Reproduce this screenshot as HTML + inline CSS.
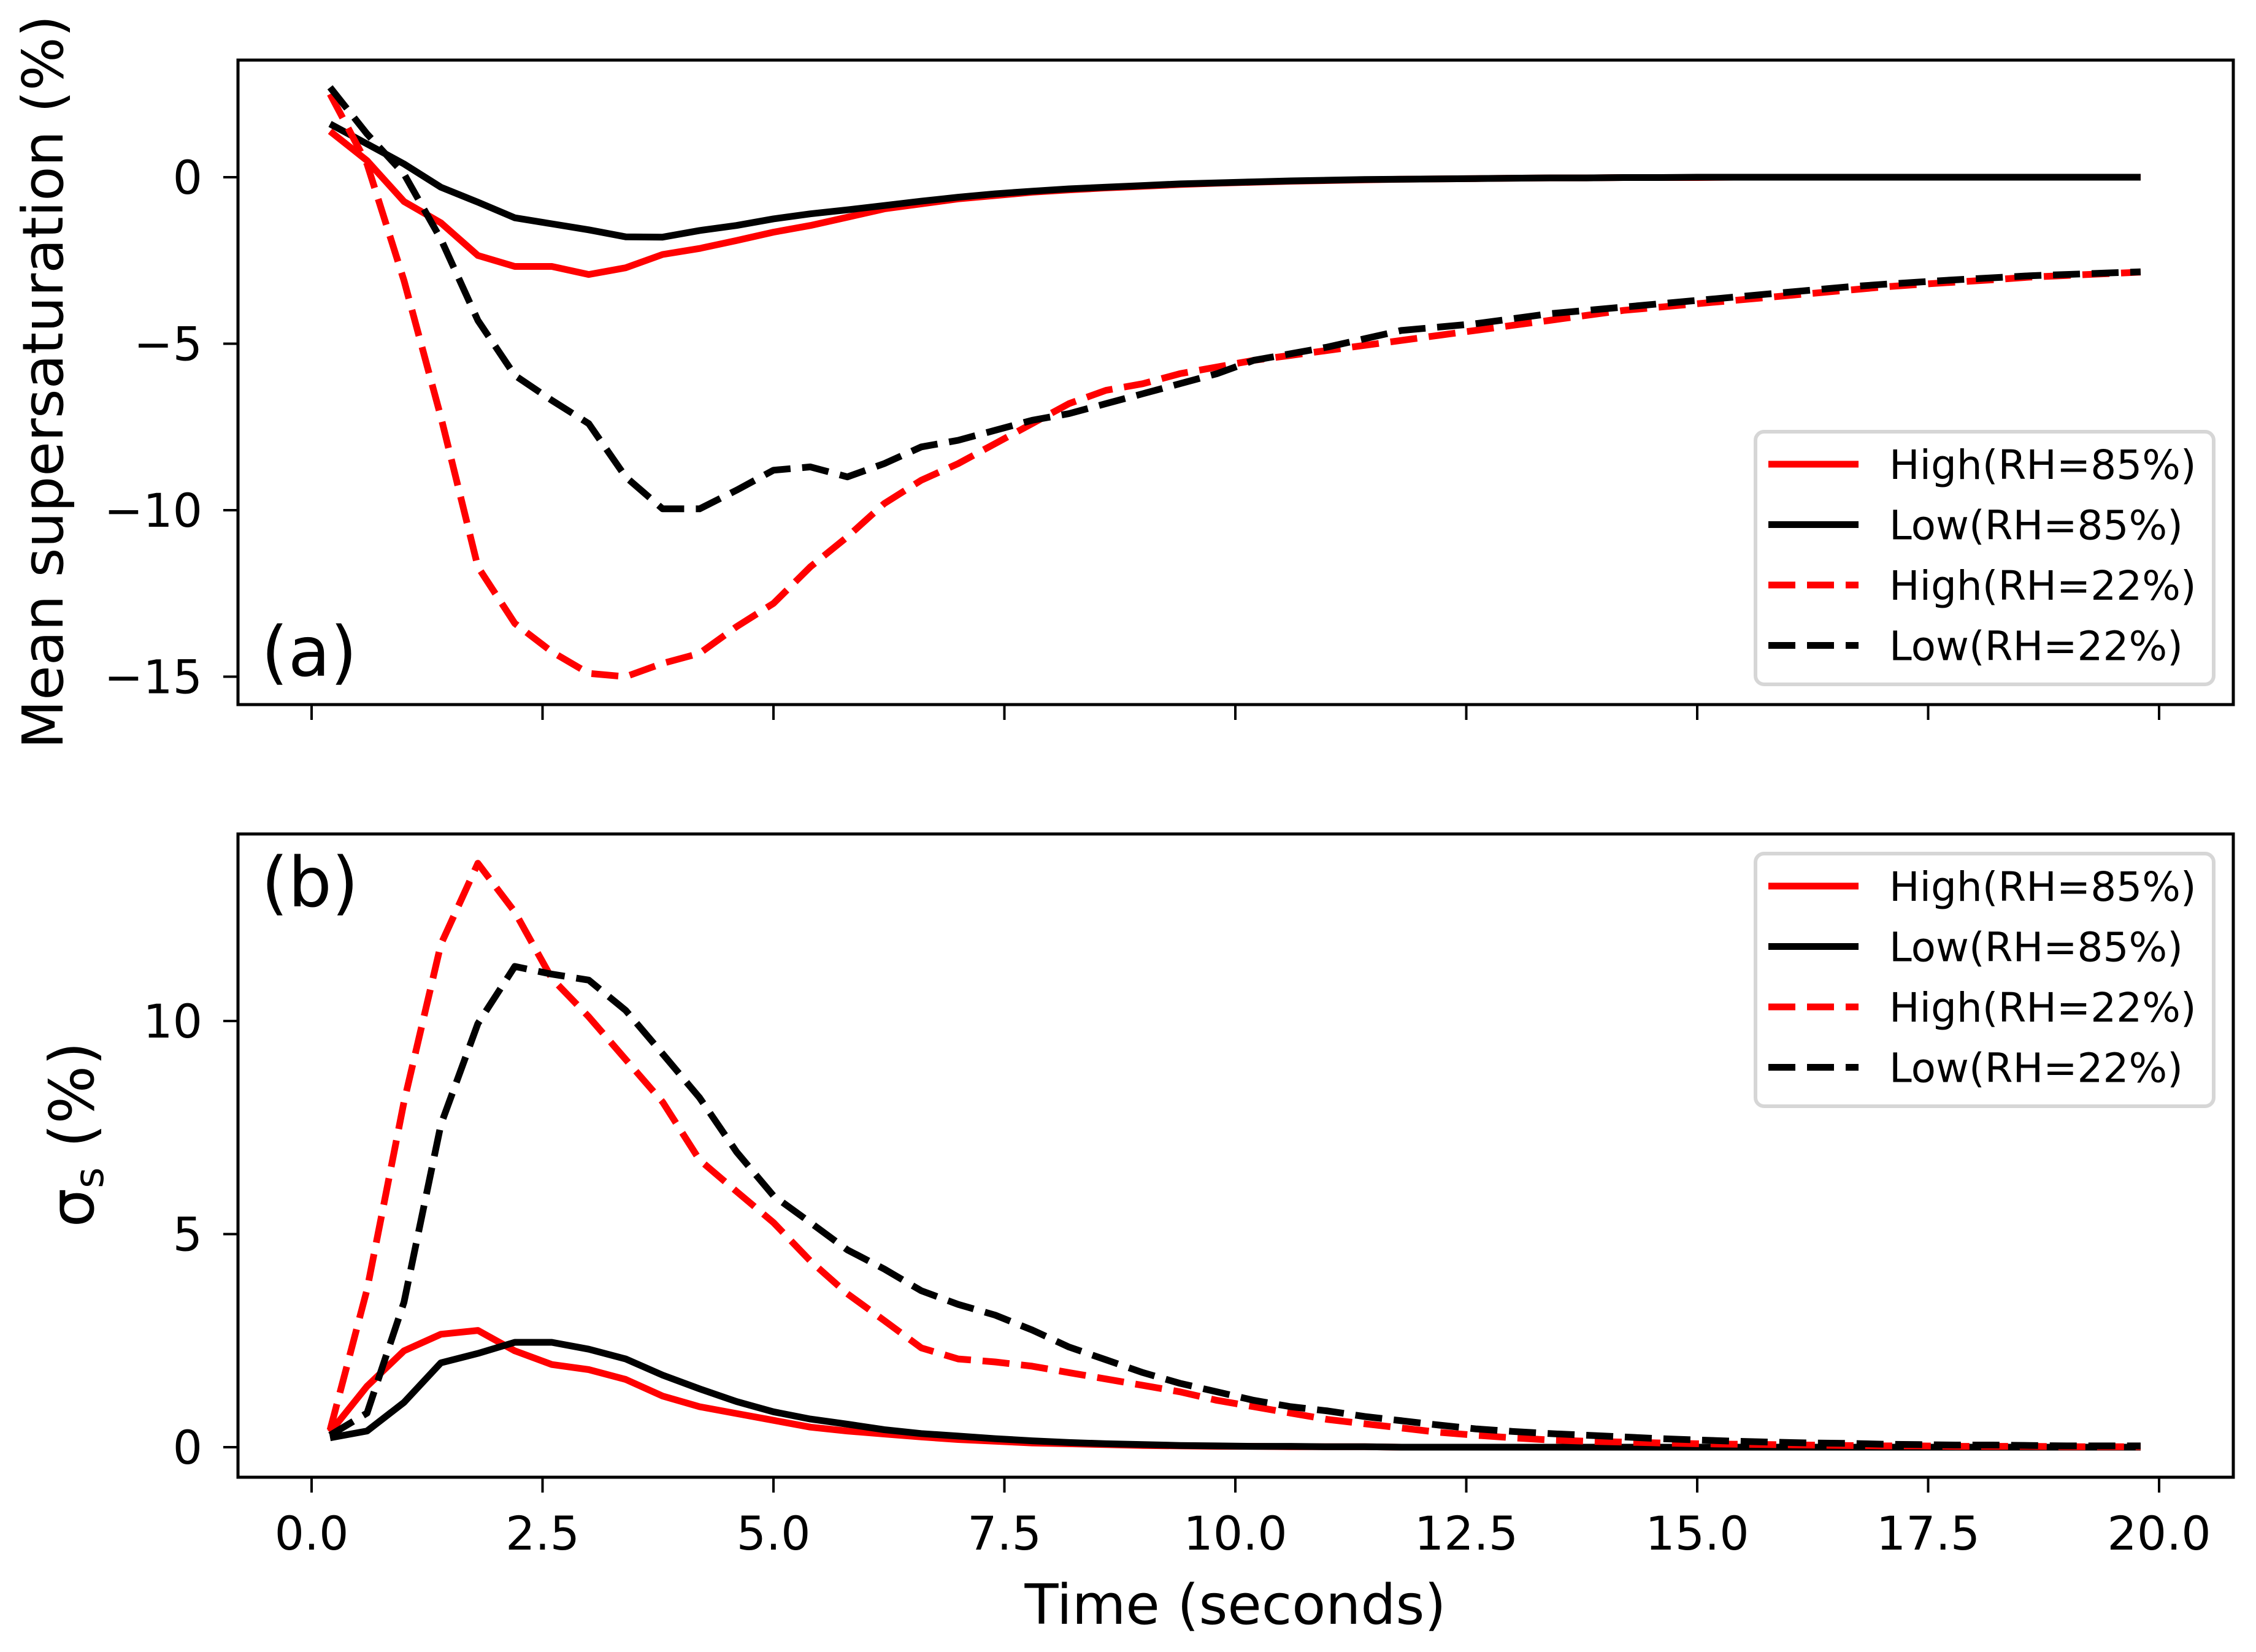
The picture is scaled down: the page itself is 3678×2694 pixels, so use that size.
<!DOCTYPE html>
<html><head><meta charset="utf-8"><style>
html,body{margin:0;padding:0;background:#fff}
svg{display:block;font-family:"DejaVu Sans","Liberation Sans",sans-serif}
</style></head><body>
<svg id="chart" width="3678" height="2694" viewBox="0 0 3678 2694" xmlns="http://www.w3.org/2000/svg">
<rect width="3678" height="2694" fill="#fff"/>
<g id="top"></g>
<g id="bot"></g>
<text x="2014" y="2648" font-size="90" text-anchor="middle">Time (seconds)</text>
<text transform="translate(102,623) rotate(-90)" font-size="92" text-anchor="middle">Mean supersaturation (%)</text>
<text transform="translate(152,1850) rotate(-90)" font-size="100" text-anchor="middle">σ<tspan font-size="66" dy="16">s</tspan><tspan dy="-16"> (%)</tspan></text>
</svg>
<script>
const times=[0.2,0.6,1.0,1.4,1.8,2.2,2.6,3.0,3.4,3.8,4.2,4.6,5.0,5.4,5.8,6.2,6.6,7.0,7.4,7.8,8.2,8.6,9.0,9.4,9.8,10.2,10.6,11.0,11.4,11.8,12.2,12.6,13.0,13.4,13.8,14.2,14.6,15.0,15.4,15.8,16.2,16.6,17.0,17.4,17.8,18.2,18.6,19.0,19.4,19.8];
const xTicks=[0,2.5,5,7.5,10,12.5,15,17.5,20];
const xTickLabels=["0.0","2.5","5.0","7.5","10.0","12.5","15.0","17.5","20.0"];
const topTicks=[0,-5,-10,-15];
const topTickLabels=["0","\u22125","\u221210","\u221215"];
const botTicks=[0,5,10];
const botTickLabels=["0","5","10"];
const seriesNames=["High(RH=85%)","Low(RH=85%)","High(RH=22%)","Low(RH=22%)"];
const meanHigh85=[1.38,0.5,-0.73,-1.37,-2.35,-2.68,-2.68,-2.92,-2.72,-2.32,-2.14,-1.9,-1.65,-1.45,-1.2,-0.95,-0.8,-0.65,-0.55,-0.45,-0.38,-0.32,-0.27,-0.22,-0.18,-0.15,-0.12,-0.1,-0.08,-0.06,-0.05,-0.04,-0.03,-0.02,-0.02,-0.01,-0.01,-0.01,0,0,0,0,0,0,0,0,0,0,0,0];
const meanLow85=[1.6,1.0,0.4,-0.3,-0.75,-1.22,-1.4,-1.58,-1.79,-1.8,-1.6,-1.45,-1.25,-1.1,-0.98,-0.85,-0.72,-0.6,-0.5,-0.42,-0.35,-0.3,-0.25,-0.2,-0.17,-0.14,-0.11,-0.09,-0.07,-0.06,-0.05,-0.04,-0.03,-0.02,-0.02,-0.01,-0.01,0,0,0,0,0,0,0,0,0,0,0,0,0];
const meanHigh22=[2.5,0.4,-3.1,-7.2,-11.7,-13.4,-14.25,-14.9,-15.0,-14.6,-14.3,-13.5,-12.8,-11.7,-10.8,-9.8,-9.1,-8.6,-8.0,-7.4,-6.8,-6.4,-6.2,-5.9,-5.7,-5.5,-5.35,-5.2,-5.05,-4.9,-4.75,-4.6,-4.45,-4.3,-4.15,-4.0,-3.9,-3.8,-3.7,-3.6,-3.5,-3.4,-3.3,-3.22,-3.15,-3.08,-3.0,-2.95,-2.9,-2.85];
const meanLow22=[2.7,1.3,0.1,-1.86,-4.3,-5.95,-6.7,-7.4,-9.0,-9.96,-9.96,-9.4,-8.8,-8.7,-9.0,-8.6,-8.1,-7.9,-7.6,-7.3,-7.1,-6.8,-6.5,-6.2,-5.9,-5.5,-5.3,-5.1,-4.85,-4.6,-4.5,-4.4,-4.25,-4.1,-4.0,-3.9,-3.8,-3.7,-3.6,-3.5,-3.4,-3.3,-3.22,-3.15,-3.08,-3.02,-2.96,-2.92,-2.88,-2.84];
const sdHigh85=[0.35,1.43,2.26,2.65,2.74,2.26,1.94,1.82,1.59,1.2,0.95,0.79,0.63,0.47,0.38,0.31,0.24,0.18,0.14,0.1,0.08,0.06,0.04,0.03,0.02,0.02,0.01,0.01,0.01,0,0,0,0,0,0,0,0,0,0,0,0,0,0,0,0,0,0,0,0,0];
const sdLow85=[0.22,0.38,1.05,1.98,2.2,2.46,2.46,2.3,2.07,1.69,1.37,1.07,0.83,0.66,0.54,0.41,0.32,0.26,0.2,0.15,0.11,0.08,0.06,0.04,0.03,0.02,0.02,0.01,0.01,0,0,0,0,0,0,0,0,0,0,0,0,0,0,0,0,0,0,0,0,0];
const sdHigh22=[0.4,3.7,8.1,11.8,13.7,12.56,11.0,10.1,9.1,8.1,6.74,6.0,5.27,4.37,3.6,2.97,2.33,2.07,2.0,1.9,1.75,1.6,1.45,1.3,1.1,0.95,0.8,0.65,0.55,0.45,0.35,0.28,0.22,0.17,0.14,0.12,0.1,0.08,0.07,0.06,0.05,0.04,0.03,0.03,0.02,0.02,0.02,0.01,0.01,0.01];
const sdLow22=[0.28,0.8,3.4,7.57,9.94,11.28,11.1,10.96,10.25,9.23,8.2,6.93,5.9,5.27,4.63,4.18,3.67,3.35,3.1,2.75,2.35,2.05,1.75,1.5,1.3,1.1,0.95,0.85,0.72,0.62,0.52,0.43,0.37,0.32,0.28,0.24,0.2,0.17,0.14,0.12,0.1,0.09,0.07,0.06,0.05,0.05,0.04,0.03,0.03,0.03];

const NS="http://www.w3.org/2000/svg";
const L=388,R=3641;
const xs=v=>508+v*150.6;
function mk(tag,attrs,parent){const e=document.createElementNS(NS,tag);for(const k in attrs)e.setAttribute(k,attrs[k]);parent.appendChild(e);return e;}
const styles=[{c:"#ff0000",d:null},{c:"#000000",d:null},{c:"#ff0000",d:"44 19"},{c:"#000000",d:"44 19"}];

function panel(g,T,B,ys,ticks,tlabels,series,keys,showXLabels,tag,tagY,legTop){
  ticks.forEach((t,i)=>{
    const y=ys(t);
    const tk=mk("line",{x1:L-24,x2:L,y1:y,y2:y,stroke:"#000","stroke-width":4},g);
    
    
    const tx=mk("text",{x:330,y:y+27,"font-size":76,"text-anchor":"end"},g);
    
    
    tx.textContent=tlabels[i];
  });
  xTicks.forEach((t,i)=>{
    const x=xs(t);
    const tk=mk("line",{x1:x,x2:x,y1:B,y2:B+25,stroke:"#000","stroke-width":4},g);
    
    
    if(showXLabels){
      const tx=mk("text",{x:x,y:2527,"font-size":76,"text-anchor":"middle"},g);
      
      
      tx.textContent=xTickLabels[i];
    }
  });
  series.forEach((s,si)=>{
    const d=s.map((v,i)=>(i?"L":"M")+xs(times[i]).toFixed(1)+" "+ys(v).toFixed(1)).join(" ");
    const p=mk("path",{d:d,fill:"none",stroke:styles[si].c,"stroke-width":11,"stroke-linejoin":"round"},g);
    if(styles[si].d)p.setAttribute("stroke-dasharray",styles[si].d);
    
    
  });
  const fr=mk("rect",{x:L,y:T,width:R-L,height:B-T,fill:"none",stroke:"#000","stroke-width":5},g);
  
  
  const tg=mk("text",{x:426,y:tagY,"font-size":112},g);
  
  
  tg.textContent=tag;
  const lg=mk("g",{},g);
  
  
  mk("rect",{x:2862,y:legTop,width:747,height:412,rx:14,fill:"#fff","fill-opacity":0.85,stroke:"#d6d6d6","stroke-width":6},lg);
  seriesNames.forEach((n,i)=>{
    const y=legTop+53+i*98.5;
    const ln=mk("line",{x1:2883,x2:3030,y1:y,y2:y,stroke:styles[i].c,"stroke-width":11},lg);
    if(styles[i].d)ln.setAttribute("stroke-dasharray",styles[i].d);
    
    
    const tx=mk("text",{x:3080,y:y+24,"font-size":66},lg);
    
    
    tx.textContent=n;
  });
}
panel(document.getElementById("top"),98,1149,v=>289-v*54.3,topTicks,topTickLabels,
  [meanHigh85,meanLow85,meanHigh22,meanLow22],["line-high-85","line-low-85","line-high-22","line-low-22"],false,"(a)",1102,704);
panel(document.getElementById("bot"),1360,2409,v=>2360-v*69.5,botTicks,botTickLabels,
  [sdHigh85,sdLow85,sdHigh22,sdLow22],["line-high-85","line-low-85","line-high-22","line-low-22"],true,"(b)",1478,1392);
</script>
</body></html>
